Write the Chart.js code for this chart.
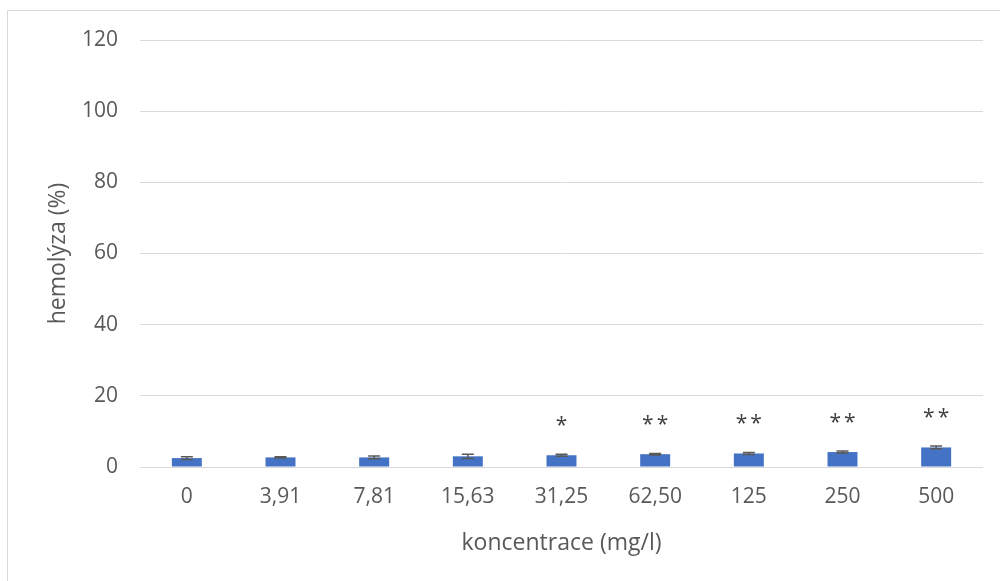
<!DOCTYPE html>
<html>
<head>
<meta charset="utf-8">
<script src="https://cdn.jsdelivr.net/npm/chart.js@4"></script>
<style>
  html, body { margin: 0; padding: 0; background: #fff; }
  #wrap { width: 1000px; height: 581px; }
</style>
</head>
<body>
<div id="wrap"><canvas id="hemolysisChart" width="1000" height="581"></canvas></div>
<script>
// Concentrations (mg/l)
const concentrations = ["0", "3,91", "7,81", "15,63", "31,25", "62,50", "125", "250", "500"];
// Mean hemolysis (%)
const hemolysis = [2.5, 2.7, 2.7, 3.0, 3.3, 3.6, 3.8, 4.2, 5.5];
// Standard deviation
const errors = [0.4, 0.2, 0.4, 0.6, 0.3, 0.2, 0.3, 0.3, 0.4];
// Significance marks
const significance = ["", "", "", "", "*", "**", "**", "**", "**"];
// Y axis ticks
const yTicks = [0, 20, 40, 60, 80, 100, 120];

const FONT = "'Open Sans', 'Liberation Sans', sans-serif";
const TEXT = "#595959";
const GRID = "#d9d9d9";

// outer frame around the chart
const framePlugin = {
  id: "frame",
  beforeDraw(chart) {
    const ctx = chart.ctx;
    ctx.save();
    ctx.fillStyle = "#ffffff";
    ctx.fillRect(0, 0, chart.width, chart.height);
    ctx.strokeStyle = GRID;
    ctx.lineWidth = 1;
    ctx.strokeRect(7.5, 10.5, chart.width, chart.height);
    ctx.restore();
  },
};

// error bars + significance stars
const errorBarPlugin = {
  id: "errorBars",
  afterDatasetsDraw(chart) {
    const ctx = chart.ctx;
    const y = chart.scales.y;
    const meta = chart.getDatasetMeta(0);
    ctx.save();
    meta.data.forEach((bar, i) => {
      const top = y.getPixelForValue(hemolysis[i] + errors[i]);
      const bottom = y.getPixelForValue(hemolysis[i] - errors[i]);
      ctx.strokeStyle = "#595959";
      ctx.lineWidth = 1.5;
      ctx.beginPath();
      ctx.moveTo(bar.x, top);
      ctx.lineTo(bar.x, bottom);
      ctx.moveTo(bar.x - 6, top);
      ctx.lineTo(bar.x + 6, top);
      ctx.moveTo(bar.x - 6, bottom);
      ctx.lineTo(bar.x + 6, bottom);
      ctx.stroke();

      if (significance[i]) {
        ctx.fillStyle = "#404040";
        ctx.font = "21px " + FONT;
        ctx.textAlign = "center";
        ctx.textBaseline = "middle";
        ctx.letterSpacing = "3px";
        ctx.fillText(significance[i], bar.x + 1.5, bar.y - 29);
      }
    });
    ctx.restore();
  },
};

const ctx = document.getElementById("hemolysisChart").getContext("2d");
const hemolysisChart = new Chart(ctx, {
  type: "bar",
  data: {
    labels: concentrations,
    datasets: [
      {
        label: "hemolýza",
        data: hemolysis,
        backgroundColor: "#4472C4",
        borderWidth: 0,
        barPercentage: 1,
        categoryPercentage: 0.32,
      },
    ],
  },
  options: {
    responsive: false,
    animation: false,
    layout: {
      padding: { top: 40, right: 17, bottom: 0, left: 0 },
    },
    plugins: {
      legend: { display: false },
      tooltip: { enabled: false },
    },
    scales: {
      x: {
        grid: { display: false, drawTicks: false },
        border: { display: false },
        ticks: {
          color: TEXT,
          font: { family: FONT, size: 21 },
          padding: 17,
          maxRotation: 0,
        },
        title: {
          display: true,
          text: "koncentrace (mg/l)",
          color: TEXT,
          font: { family: FONT, size: 23 },
          padding: { top: 24, bottom: 24 },
        },
        afterFit(scale) {
          scale.height = 114;
        },
      },
      y: {
        min: 0,
        max: 120,
        afterBuildTicks(scale) {
          scale.ticks = yTicks.map((v) => ({ value: v }));
        },
        grid: { color: GRID, lineWidth: 1, drawTicks: false },
        border: { display: false },
        ticks: {
          color: TEXT,
          font: { family: FONT, size: 21 },
          padding: 22,
        },
        title: {
          display: true,
          text: "hemolýza (%)",
          color: TEXT,
          font: { family: FONT, size: 23 },
          padding: { top: 45, bottom: 45 },
        },
        afterFit(scale) {
          scale.width = 140;
        },
      },
    },
  },
  plugins: [framePlugin, errorBarPlugin],
});
</script>
</body>
</html>
